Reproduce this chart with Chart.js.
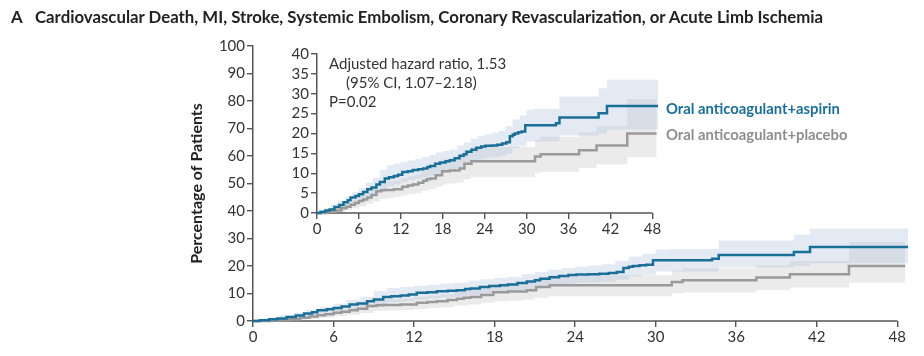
<!DOCTYPE html>
<html>
<head>
<meta charset="utf-8">
<script src="https://cdn.jsdelivr.net/npm/chart.js@4.4.0/dist/chart.umd.min.js"></script>
<style>
  html, body { margin: 0; padding: 0; background: #fff; }
  #wrap { position: relative; width: 924px; height: 356px; overflow: hidden; font-family: Lato, "Open Sans", sans-serif; }
  #mainBox { position: absolute; left: 0; top: 0; width: 924px; height: 356px; }
  #insetBox { position: absolute; left: 260px; top: 40px; width: 410px; height: 205px; }
  .title { position: absolute; top: 7px; font-weight: bold; font-size: 16.8px; line-height: 20px; color: #222; white-space: nowrap; }
  .note { position: absolute; left: 329px; top: 54px; font-size: 15px; line-height: 19px; color: #333; white-space: nowrap; }
  .leg { position: absolute; left: 666px; font-weight: bold; font-size: 14.8px; line-height: 18px; white-space: nowrap; }
</style>
</head>
<body>
<div id="wrap">
  <div id="mainBox"><canvas id="mainChart" width="924" height="356"></canvas></div>
  <div id="insetBox"><canvas id="insetChart" width="410" height="205"></canvas></div>
  <div class="title" style="left:11px">A</div>
  <div class="title" style="left:35px">Cardiovascular Death, MI, Stroke, Systemic Embolism, Coronary Revascularization, or Acute Limb Ischemia</div>
  <div class="note">Adjusted hazard ratio, 1.53<br><span style="padding-left:17px">(95% CI, 1.07–2.18)</span><br>P=0.02</div>
  <div class="leg" style="top:99px;color:#1b6f96">Oral anticoagulant+aspirin</div>
  <div class="leg" style="top:125px;color:#8e8e8e">Oral anticoagulant+placebo</div>
</div>
<script>
// ---- Data (months since randomization, cumulative % of patients) ----
const xTicks = [0, 6, 12, 18, 24, 30, 36, 42, 48];
const mainYTicks = [0, 10, 20, 30, 40, 50, 60, 70, 80, 90, 100];
const insetYTicks = [0, 5, 10, 15, 20, 25, 30, 35, 40];

const seriesNames = ['Oral anticoagulant+aspirin', 'Oral anticoagulant+placebo'];

const aspirinMonths = [0,0.5,1.2,1.8,2.5,3.2,3.8,4.4,4.8,5.5,6.0,6.6,7.2,7.8,8.5,9.0,9.7,10.3,11.0,11.6,12.2,13.0,13.7,14.5,15.2,15.8,16.2,16.9,17.6,18.4,19.0,19.7,20.4,21.0,21.4,22.1,22.8,23.5,24.1,25.0,25.8,26.5,27.1,27.6,28.0,28.3,28.8,29.3,29.8,34.2,34.7,40.3,41.5,48.8];
const aspirinValues = [0,0.3,0.6,0.9,1.5,2.0,2.7,3.2,3.9,4.3,4.7,5.3,6.0,6.4,7.2,7.8,8.7,9.0,9.3,9.6,10.3,10.5,10.8,11.0,11.2,11.6,11.8,12.4,12.7,13.0,13.3,13.8,14.4,14.8,15.4,15.9,16.4,16.7,16.9,17.0,17.2,17.5,17.8,19.3,19.7,20.0,20.3,20.5,22.1,22.6,24.0,25.1,26.9,26.9];

const placeboMonths = [0,1.5,2.7,3.5,4.2,4.8,5.4,6.0,6.6,7.2,7.8,8.5,9.2,9.7,11.0,12.2,13.0,13.7,14.5,15.2,15.7,16.2,17.0,17.9,19.0,20.4,21.1,22.1,31.2,32.0,37.5,40.0,44.4,48.6];
const placeboValues = [0,0.3,0.6,1.2,1.6,2.1,2.5,3.0,3.4,3.9,4.5,5.5,5.7,5.8,6.0,6.6,6.9,7.2,7.6,8.1,8.5,8.7,9.5,10.5,10.7,11.2,12.4,13.0,14.2,14.8,15.8,17.0,20.0,20.0];

const aspirinBandMonths = [0,1,2,3,4,5,6,7,8,9,10,11,12,13,14,15,16,17,18,19,20,21,22,23,24,25,26,27,28,29,30,31,34.7,40.3,41.5,48.8];
const aspirinBandLow  = [0,0.2,0.6,1.0,1.8,2.6,3.3,4.2,5.0,6.0,6.8,7.2,7.8,8.3,8.6,8.9,9.4,9.9,10.4,10.7,11.4,12.2,12.8,13.5,13.9,14.0,14.3,15.0,16.3,16.8,18.0,18.0,19.5,20.0,21.0,21.0];
const aspirinBandHigh = [0,1.2,2.2,3.0,4.0,5.2,6.3,7.6,8.8,10.8,12.0,12.4,12.8,13.2,13.6,14.0,14.6,15.2,15.6,16.0,17.0,17.8,18.6,19.3,19.8,20.2,20.6,21.8,23.5,24.5,26.0,26.2,29.3,31.4,33.6,33.6];

const placeboBandMonths = [0,2,3,4,5,6,7,8,9,10,11,12,13,14,15,16,17,18,19,20,21,22,31.2,32,37.5,40,44.4,48.6];
const placeboBandLow  = [0,0.1,0.3,0.7,1.2,1.7,2.3,2.9,3.6,3.8,4.0,4.4,4.7,5.0,5.6,6.0,6.6,7.2,7.4,7.7,8.5,9.0,10.0,10.4,11.3,12.2,14.0,14.0];
const placeboBandHigh = [0,1.2,1.8,2.6,3.4,4.3,5.2,6.3,7.6,7.9,8.1,8.8,9.2,9.6,10.6,11.4,12.4,13.6,13.9,14.4,15.8,16.6,18.4,19.2,20.3,21.8,28.7,28.7];

// ---- Styling ----
const BLUE = '#1b6f96';
const GRAY = '#9a9a9a';
const BLUE_BAND = 'rgba(172,194,220,0.34)';
const GRAY_BAND = 'rgba(175,175,175,0.25)';
const AXIS = '#555';
const TXT = '#333';
const FONT = 'Lato';

const pts = (xs, ys) => xs.map((x, i) => ({ x: x, y: ys[i] }));

function buildDatasets() {
  const lineBase = { stepped: 'before', pointRadius: 0, borderWidth: 2.5, fill: false, clip: false, tension: 0, order: 0 };
  const bandBase = { stepped: 'before', pointRadius: 0, borderWidth: 0, tension: 0, order: 1 };
  return [
    Object.assign({}, lineBase, { label: seriesNames[0], data: pts(aspirinMonths, aspirinValues), borderColor: BLUE }),
    Object.assign({}, lineBase, { label: seriesNames[1], data: pts(placeboMonths, placeboValues), borderColor: GRAY }),
    Object.assign({}, bandBase, { label: 'b_hi', data: pts(aspirinBandMonths, aspirinBandHigh), backgroundColor: BLUE_BAND, borderColor: 'rgba(0,0,0,0)', fill: '+1' }),
    Object.assign({}, bandBase, { label: 'b_lo', data: pts(aspirinBandMonths, aspirinBandLow), borderColor: 'rgba(0,0,0,0)', fill: false }),
    Object.assign({}, bandBase, { label: 'g_hi', data: pts(placeboBandMonths, placeboBandHigh), backgroundColor: GRAY_BAND, borderColor: 'rgba(0,0,0,0)', fill: '+1' }),
    Object.assign({}, bandBase, { label: 'g_lo', data: pts(placeboBandMonths, placeboBandLow), borderColor: 'rgba(0,0,0,0)', fill: false })
  ];
}

const xAxisLine = {
  id: 'xAxisLine',
  beforeDatasetsDraw(chart) {
    const { ctx, chartArea } = chart;
    const xs = chart.scales.x;
    ctx.save();
    ctx.strokeStyle = AXIS;
    ctx.lineWidth = 1.5;
    ctx.beginPath();
    ctx.moveTo(xs.getPixelForValue(xTicks[0]) - 0.75, chartArea.bottom);
    ctx.lineTo(xs.getPixelForValue(xTicks[xTicks.length - 1]), chartArea.bottom);
    ctx.stroke();
    ctx.restore();
  }
};

function makeChart(id, yTicks, lay) {
  return new Chart(document.getElementById(id), {
    type: 'line',
    data: { datasets: buildDatasets() },
    options: {
      responsive: false,
      animation: false,
      devicePixelRatio: 1,
      events: [],
      layout: { padding: lay.padding },
      plugins: { legend: { display: false }, tooltip: { enabled: false }, title: { display: false } },
      scales: {
        x: {
          type: 'linear',
          min: 0,
          max: 48.8,
          afterBuildTicks: s => { s.ticks = xTicks.map(v => ({ value: v })); },
          afterFit: s => { s.height = lay.xHeight; },
          grid: { display: true, drawOnChartArea: false, drawTicks: true, tickLength: 6, color: AXIS, lineWidth: 1.4 },
          border: { display: false },
          ticks: { color: TXT, font: { family: FONT, size: 15 }, padding: 1, maxRotation: 0, autoSkip: false }
        },
        y: {
          type: 'linear',
          min: 0,
          max: yTicks[yTicks.length - 1],
          afterBuildTicks: s => { s.ticks = yTicks.map(v => ({ value: v })); },
          afterFit: s => { s.width = lay.yWidth; },
          grid: { display: true, drawOnChartArea: false, drawTicks: true, tickLength: 6, color: AXIS, lineWidth: 1.4 },
          border: { display: true, color: AXIS, width: 1.5 },
          ticks: { color: TXT, font: { family: FONT, size: 15 }, padding: 2, autoSkip: false },
          title: lay.yTitle ? { display: true, text: lay.yTitle, color: '#222', font: { family: FONT, size: 16, weight: 'bold' }, padding: { top: 4, bottom: 0 } } : { display: false }
        }
      }
    },
    plugins: [xAxisLine]
  });
}

makeChart('mainChart', mainYTicks, {
  padding: { left: 183, top: 46, right: 16, bottom: 0 },
  yWidth: 70, xHeight: 35, yTitle: 'Percentage of Patients'
});
makeChart('insetChart', insetYTicks, {
  padding: { left: 17, top: 14, right: 12, bottom: 0 },
  yWidth: 40, xHeight: 32, yTitle: null
});
</script>
</body>
</html>
